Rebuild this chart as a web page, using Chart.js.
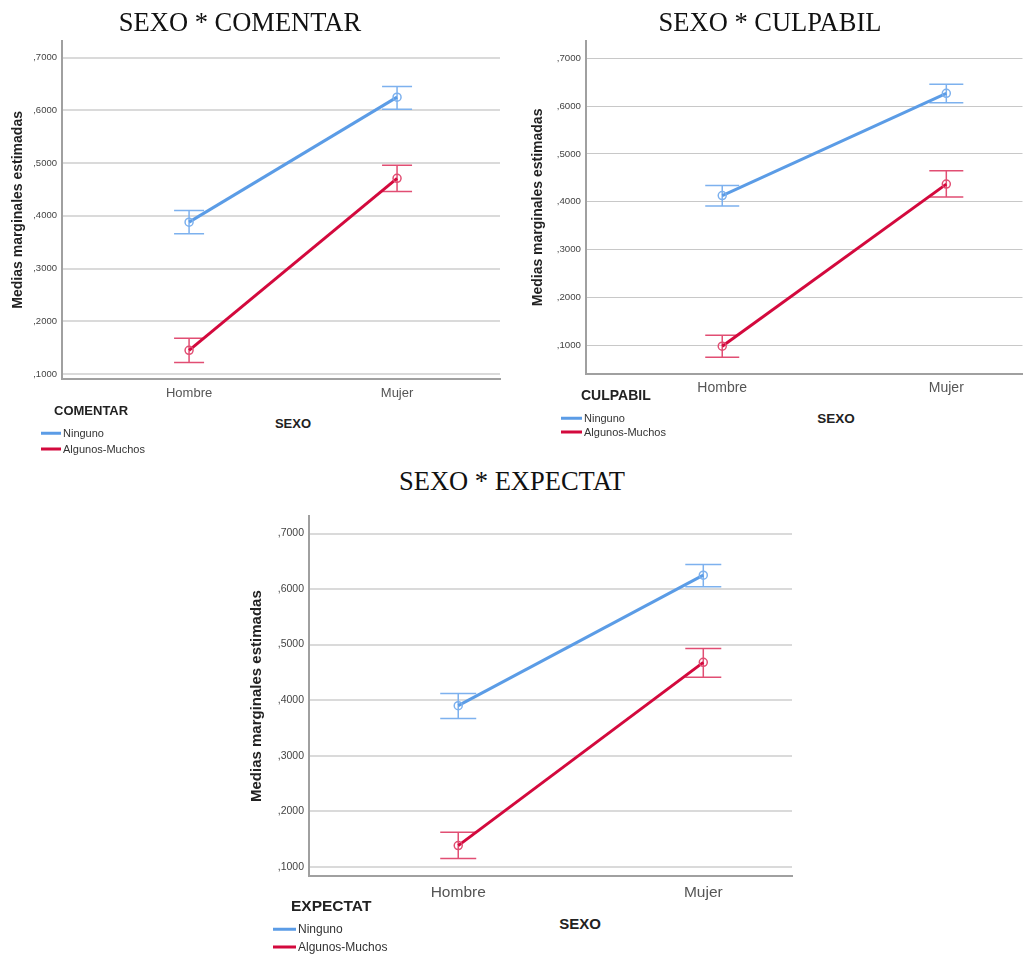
<!DOCTYPE html>
<html>
<head>
<meta charset="utf-8">
<script src="https://cdn.jsdelivr.net/npm/chart.js@4"></script>
<style>
body { margin: 0; background: #fff; width: 1028px; height: 962px; position: relative; overflow: hidden; font-family: "Liberation Sans", Arial, sans-serif; }
canvas { position: absolute; }
.titulo { position: absolute; font-family: "Liberation Serif", serif; color: #111; white-space: nowrap; transform: translate(-50%, -50%); }
.eje { position: absolute; font-weight: bold; color: #222; white-space: nowrap; transform: translate(-50%, -50%); }
.leyenda { position: absolute; color: #222; }
.leyenda .cab { font-weight: bold; position: absolute; white-space: nowrap; transform: translateY(-50%); }
.leyenda .item { position: absolute; white-space: nowrap; transform: translateY(-50%); color: #333; }
.leyenda .raya { position: absolute; transform: translateY(-50%); }
</style>
</head>
<body>
<script>
// datos
const sexo = ['Hombre', 'Mujer'];
const grupos = ['Ninguno', 'Algunos-Muchos'];
const colores = ['#5b9ce6', '#d3093d'];
const coloresError = ['#7db1ee', '#e14e73'];
const yTicks = [0.1, 0.2, 0.3, 0.4, 0.5, 0.6, 0.7];

// SEXO * COMENTAR  (filas: Ninguno, Algunos-Muchos)
const comentarMedia = [[0.388, 0.625], [0.145, 0.471]];
const comentarInf   = [[0.366, 0.602], [0.122, 0.446]];
const comentarSup   = [[0.410, 0.645], [0.168, 0.496]];

// SEXO * CULPABIL
const culpabilMedia = [[0.413, 0.627], [0.098, 0.437]];
const culpabilInf   = [[0.391, 0.607], [0.075, 0.410]];
const culpabilSup   = [[0.434, 0.646], [0.121, 0.465]];

// SEXO * EXPECTAT
const expectatMedia = [[0.390, 0.625], [0.138, 0.468]];
const expectatInf   = [[0.367, 0.604], [0.115, 0.441]];
const expectatSup   = [[0.412, 0.644], [0.162, 0.493]];

// barras de error (IC) dibujadas con las escalas del grafico
const errorBars = {
  id: 'errorBars',
  beforeDatasetsDraw(chart, args, opts) {
    const { ctx, scales: { x, y } } = chart;
    ctx.save();
    ctx.lineWidth = 1.5;
    chart.data.datasets.forEach(ds => {
      ctx.strokeStyle = ds.errorColor;
      ds.inf.forEach((lo, j) => {
        const px = x.getPixelForValue(j);
        const pLo = y.getPixelForValue(lo);
        const pHi = y.getPixelForValue(ds.sup[j]);
        ctx.beginPath();
        ctx.moveTo(px, pLo); ctx.lineTo(px, pHi);
        ctx.moveTo(px - opts.cap, pLo); ctx.lineTo(px + opts.cap, pLo);
        ctx.moveTo(px - opts.cap, pHi); ctx.lineTo(px + opts.cap, pHi);
        ctx.stroke();
      });
    });
    ctx.restore();
  }
};

function addText(cls, text, x, y, size) {
  const d = document.createElement('div');
  d.className = cls;
  d.textContent = text;
  d.style.left = x + 'px';
  d.style.top = y + 'px';
  d.style.fontSize = size + 'px';
  document.body.appendChild(d);
}

function addLegend(c) {
  const box = document.createElement('div');
  box.className = 'leyenda';
  box.style.left = '0px'; box.style.top = '0px';
  const cab = document.createElement('div');
  cab.className = 'cab';
  cab.textContent = c.factor;
  cab.style.left = c.leg.titleX + 'px';
  cab.style.top = c.leg.titleY + 'px';
  cab.style.fontSize = c.leg.titleSize + 'px';
  box.appendChild(cab);
  grupos.forEach((g, i) => {
    const yy = c.leg.itemY[i];
    const r = document.createElement('div');
    r.className = 'raya';
    r.style.left = c.leg.lineX + 'px';
    r.style.top = yy + 'px';
    r.style.width = c.leg.lineW + 'px';
    r.style.height = (i === 0 ? 2.5 : 3) + 'px';
    r.style.background = colores[i];
    box.appendChild(r);
    const t = document.createElement('div');
    t.className = 'item';
    t.textContent = g;
    t.style.left = (c.leg.lineX + c.leg.lineW + 2) + 'px';
    t.style.top = yy + 'px';
    t.style.fontSize = c.leg.itemSize + 'px';
    box.appendChild(t);
  });
  document.body.appendChild(box);
}

function makeChart(c) {
  const canvas = document.createElement('canvas');
  canvas.width = c.w; canvas.height = c.h;
  canvas.style.left = c.left + 'px';
  canvas.style.top = c.top + 'px';
  document.body.appendChild(canvas);

  addText('titulo', 'SEXO * ' + c.factor, c.titlePos[0], c.titlePos[1], 26.5);
  addText('eje', 'SEXO', c.sexoPos[0], c.sexoPos[1], c.sexoSize);
  addLegend(c);

  return new Chart(canvas, {
    type: 'line',
    data: {
      datasets: grupos.map((g, i) => ({
        label: g,
        data: c.media[i].map((v, j) => ({ x: j, y: v })),
        inf: c.inf[i],
        sup: c.sup[i],
        errorColor: coloresError[i],
        borderColor: colores[i],
        borderWidth: 3,
        pointRadius: 4,
        pointBorderWidth: 1.5,
        pointBorderColor: coloresError[i],
        pointBackgroundColor: 'rgba(255,255,255,0)',
        fill: false,
        tension: 0
      }))
    },
    options: {
      responsive: false,
      animation: false,
      devicePixelRatio: 1,
      layout: { padding: { top: c.padTop, right: c.padRight, left: 0, bottom: 0 } },
      plugins: {
        legend: { display: false },
        tooltip: { enabled: false },
        errorBars: { cap: c.cap }
      },
      scales: {
        x: {
          type: 'linear',
          min: c.xMin, max: c.xMax,
          afterBuildTicks: s => { s.ticks = sexo.map((_, j) => ({ value: j })); },
          afterFit: s => { s.height = 30; },
          grid: { display: false, drawTicks: false },
          border: { color: '#a0a0a0', width: 2 },
          ticks: { padding: c.xPad, color: '#555', font: { size: c.xFont }, autoSkip: false, maxRotation: 0,
                   callback: v => sexo[v] }
        },
        y: {
          min: c.yMin, max: c.yMax,
          afterBuildTicks: s => { s.ticks = yTicks.map(v => ({ value: v })); },
          afterFit: s => { s.width = c.yWidth; },
          grid: { color: c.gridColor, lineWidth: c.gridWidth, drawTicks: false },
          border: { color: '#a0a0a0', width: 2 },
          ticks: { padding: 5, color: '#444', font: { size: c.yFont },
                   callback: v => ',' + v.toFixed(4).slice(2) },
          title: { display: true, text: 'Medias marginales estimadas', color: '#222',
                   font: { size: c.yTitleFont, weight: 'bold' }, padding: { top: c.yTitlePad, bottom: 0 } }
        }
      }
    },
    plugins: [errorBars]
  });
}

makeChart({
  factor: 'COMENTAR', media: comentarMedia, inf: comentarInf, sup: comentarSup,
  left: 0, top: 30, w: 510, h: 379, padTop: 8, padRight: 10, yWidth: 62,
  xMin: -0.611, xMax: 1.495, yMin: 0.0906, yMax: 0.732,
  xPad: 7, xFont: 13, yFont: 9.5, yTitleFont: 14, yTitlePad: 10,
  gridColor: '#dadada', gridWidth: 2, cap: 15,
  titlePos: [240, 22], sexoPos: [293, 423], sexoSize: 13,
  leg: { titleX: 54, titleY: 410, titleSize: 13, lineX: 41, lineW: 20, itemY: [433, 449], itemSize: 11 }
});

makeChart({
  factor: 'CULPABIL', media: culpabilMedia, inf: culpabilInf, sup: culpabilSup,
  left: 510, top: 30, w: 518, h: 374, padTop: 8, padRight: 1, yWidth: 76,
  xMin: -0.608, xMax: 1.34, yMin: 0.0398, yMax: 0.7367,
  xPad: 6, xFont: 14, yFont: 9.7, yTitleFont: 14, yTitlePad: 20,
  gridColor: '#c8c8c8', gridWidth: 1, cap: 17,
  titlePos: [770, 22], sexoPos: [836, 418], sexoSize: 13.5,
  leg: { titleX: 581, titleY: 395, titleSize: 14, lineX: 561, lineW: 21, itemY: [418, 432], itemSize: 11 }
});

makeChart({
  factor: 'EXPECTAT', media: expectatMedia, inf: expectatInf, sup: expectatSup,
  left: 240, top: 505, w: 560, h: 401, padTop: 10, padRight: 8, yWidth: 69,
  xMin: -0.609, xMax: 1.362, yMin: 0.0833, yMax: 0.731,
  xPad: 7, xFont: 15.5, yFont: 10.5, yTitleFont: 15, yTitlePad: 8,
  gridColor: '#dadada', gridWidth: 2, cap: 18,
  titlePos: [512, 481], sexoPos: [580, 923], sexoSize: 15,
  leg: { titleX: 291, titleY: 906, titleSize: 15.5, lineX: 273, lineW: 23, itemY: [929, 947], itemSize: 12 }
});
</script>
</body>
</html>
